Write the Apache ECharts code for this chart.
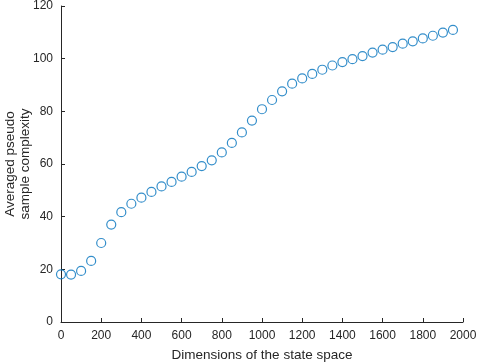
<!DOCTYPE html>
<html>
<head>
<meta charset="utf-8">
<script src="https://cdn.jsdelivr.net/npm/echarts@6/dist/echarts.min.js"></script>
<style>
  html, body { margin: 0; padding: 0; background: #fff; }
  #chart { width: 478px; height: 362px; }
</style>
</head>
<body>
<div id="chart"></div>
<script>
const dims = [0, 50, 100, 150, 200, 250, 300, 350, 400, 450, 500, 550, 600, 650, 700, 750, 800, 850, 900, 950,
  1000, 1050, 1100, 1150, 1200, 1250, 1300, 1350, 1400, 1450, 1500, 1550, 1600, 1650, 1700, 1750, 1800, 1850, 1900, 1950]
const complexity = [18.1, 18.0, 19.4, 23.2, 30.0, 37.0, 41.7, 44.9, 47.2, 49.4, 51.5, 53.2, 55.2, 57.0, 59.2, 61.4, 64.4, 68.0, 72.0, 76.5,
  80.8, 84.3, 87.6, 90.5, 92.5, 94.2, 95.8, 97.4, 98.7, 99.8, 101.0, 102.3, 103.4, 104.4, 105.7, 106.6, 107.7, 108.7, 109.9, 110.9]

const xName = "Dimensions of the state space"
const yName = "Averaged pseudo\nsample complexity"

const chart = echarts.init(document.getElementById("chart"))

const axisCommon = {
  axisLine: { show: true, lineStyle: { color: "#262626", width: 1 } },
  axisTick: { show: true, inside: true, length: 4, lineStyle: { color: "#262626" } },
  axisLabel: { color: "#262626", fontSize: 12, fontFamily: "Liberation Sans", formatter: v => String(v) },
  splitLine: { show: false },
  nameMoveOverlap: false,
  nameTextStyle: { color: "#262626", fontSize: 13.5, fontFamily: "Liberation Sans" }
}

chart.setOption({
  animation: false,
  grid: { left: 61, right: 15, top: 6, bottom: 40, outerBoundsMode: "none", containLabel: false },
  xAxis: {
    ...axisCommon,
    type: "value",
    min: 0,
    max: 2000,
    interval: 200,
    name: xName,
    nameLocation: "middle",
    nameGap: 26
  },
  yAxis: {
    ...axisCommon,
    type: "value",
    min: 0,
    max: 120,
    interval: 20,
    name: yName,
    nameLocation: "middle",
    nameGap: 28,
    nameTextStyle: { ...axisCommon.nameTextStyle, lineHeight: 15 }
  },
  series: [
    {
      type: "scatter",
      data: dims.map((d, i) => [d, complexity[i]]),
      symbol: "circle",
      symbolSize: 9,
      itemStyle: { color: "transparent", borderColor: "#0072BD", borderWidth: 1.2 }
    }
  ]
})
</script>
</body>
</html>
